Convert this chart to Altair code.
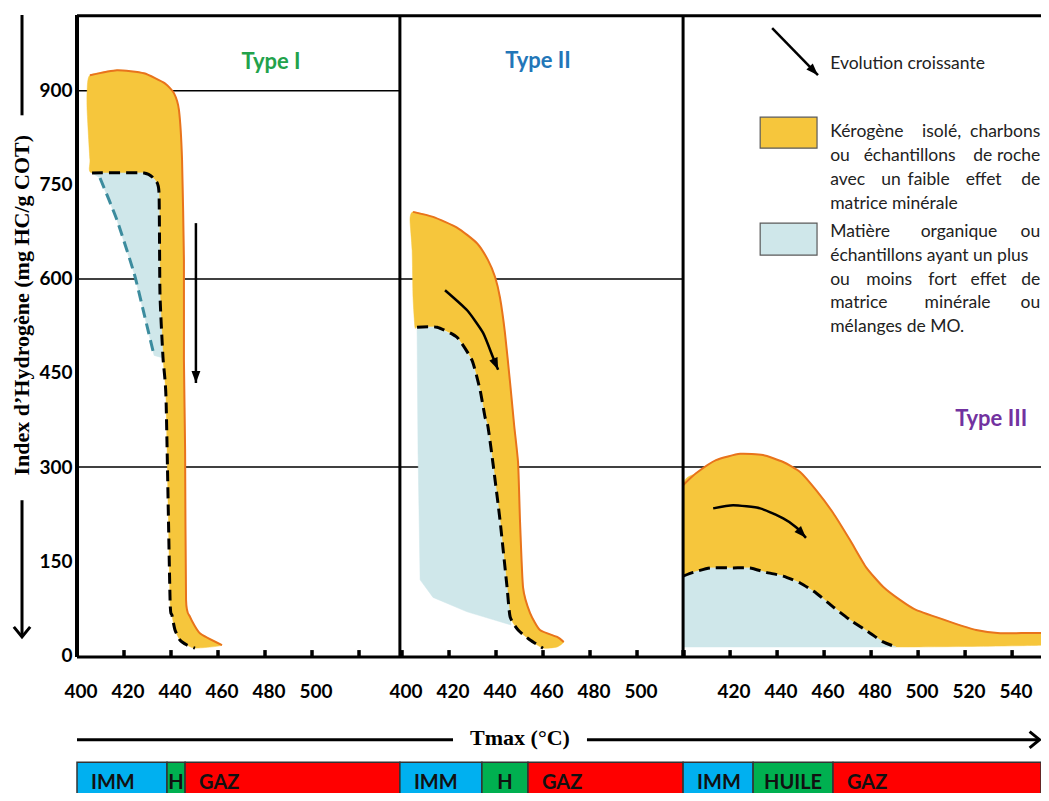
import altair as alt
import pandas as pd

# ---------------- values (Tmax in °C, IH in mg HC/g COT) ----------------
# Type I : kerogen envelope (outer orange edge first, then inner edge back up)
T1_KER_T = [405.5, 417.0, 428.5, 437.4, 441.3, 443.4, 444.7, 445.5, 445.5, 446.0, 446.4, 448.1, 452.3, 461.7,
            450.2, 446.8, 443.8, 441.7, 440.4, 439.6, 437.9, 436.6, 435.3, 434.9, 433.2, 428.5, 406.4, 405.5, 404.3, 404.3]
T1_KER_IH = [925, 933, 928, 912, 896, 869, 790, 630, 471, 327, 88, 61, 35, 16,
             11, 16, 24, 40, 64, 88, 407, 474, 577, 737, 758, 769, 769, 790, 869, 900]
T1_EDGE_N = 14
T1_MO_T = [406.4, 428.5, 433.2, 434.9, 435.3, 436.6, 432.8, 428.5, 424.3, 417.0, 409.8]
T1_MO_IH = [769, 769, 758, 737, 577, 474, 478, 545, 609, 694, 761]
T1_DASH_T = [406.4, 428.5, 433.2, 434.9, 435.3, 436.6, 437.9, 439.6, 440.4, 441.7, 443.8, 446.8, 450.2]
T1_DASH_IH = [769, 769, 758, 737, 577, 474, 407, 88, 64, 40, 24, 16, 11]
T1_MODASH_T = [409.8, 417.0, 424.3, 428.5, 432.8]
T1_MODASH_IH = [761, 694, 609, 545, 478]
T1_ARROW_T = [450.6, 450.6]
T1_ARROW_IH = [689, 434]

# Type II
T2_KER_T = [404.7, 413.2, 423.4, 431.9, 436.6, 439.6, 441.7, 443.8, 446.0, 447.7, 449.4, 450.2, 451.5, 454.5, 458.7, 466.0, 468.8,
            466.0, 460.0, 454.5, 449.4, 446.0, 444.7, 441.7, 438.7, 436.6, 435.3, 433.2, 429.8, 423.4, 414.9, 406.4, 405.5,
            404.7, 404.3, 403.4]
T2_KER_IH = [707, 699, 682, 657, 630, 603, 570, 514, 434, 367, 306, 215, 108, 67, 40, 29, 21,
             13, 11, 24, 40, 61, 108, 215, 306, 364, 380, 423, 470, 507, 523, 523, 523,
             570, 646, 695]
T2_EDGE_N = 17
T2_MO_T = [406.4, 414.9, 423.4, 429.8, 433.2, 435.3, 436.6, 438.7, 441.7, 444.7, 446.0, 446.4, 427.7, 413.2, 407.7, 406.8]
T2_MO_IH = [523, 523, 507, 470, 423, 380, 364, 306, 215, 108, 61, 48, 69, 92, 120, 330]
T2_DASH_T = [406.4, 414.9, 423.4, 429.8, 433.2, 435.3, 436.6, 438.7, 441.7, 444.7, 446.0, 449.4, 454.5, 460.0]
T2_DASH_IH = [523, 523, 507, 470, 423, 380, 364, 306, 215, 108, 61, 40, 24, 11]
T2_ARROW_T = [418.3, 427.7, 434.5, 438.7, 440.9]
T2_ARROW_IH = [582, 550, 514, 475, 455]

# Type III
T3_KER_T = [400.0, 405.5, 414.0, 424.3, 434.0, 442.6, 449.8, 456.6, 463.8, 471.1, 477.9, 485.1, 492.3, 499.1, 513.6,
            524.7, 534.9, 553.2, 555.3,
            554.0, 490.6, 485.1, 479.6, 471.1, 463.8, 456.6, 449.8, 442.6, 435.3, 428.5, 421.3, 411.5, 404.3, 400.0]
T3_KER_IH = [271, 290, 311, 321, 319, 308, 292, 263, 227, 183, 140, 109, 88, 72, 53,
             40, 35, 35, 29,
             16, 13, 21, 35, 56, 77, 99, 115, 126, 132, 139, 139, 139, 132, 126]
T3_EDGE_N = 19
T3_MO_T = [400.0, 404.3, 411.5, 421.3, 428.5, 435.3, 442.6, 449.8, 456.6, 463.8, 471.1, 479.6, 485.1, 490.6, 400.0]
T3_MO_IH = [126, 132, 139, 139, 139, 132, 126, 115, 99, 77, 56, 35, 21, 13, 13]
T3_DASH_T = [400.0, 404.3, 411.5, 421.3, 428.5, 435.3, 442.6, 449.8, 456.6, 463.8, 471.1, 479.6, 485.1, 490.6]
T3_DASH_IH = [126, 132, 139, 139, 139, 132, 126, 115, 99, 77, 56, 35, 21, 13]
T3_ARROW_T = [412.8, 421.3, 432.8, 442.6, 448.1, 452.3]
T3_ARROW_IH = [234, 239, 234, 218, 204, 187]

# grid lines per panel
GRID_PANEL = [1, 1, 1, 2, 2, 3]
GRID_IH = [900, 600, 300, 600, 300, 300]
PANEL_T_MIN = [400.0, 399.1, 400.0]
PANEL_T_MAX = [537.4, 519.6, 552.3]

# axis ticks / labels
TICKS = {1: [400, 420, 440, 460, 480, 500, 520], 2: [400, 420, 440, 460, 480, 500, 520],
         3: [400, 420, 440, 460, 480, 500, 520, 540]}
TICK_LABELS = {1: [400, 420, 440, 460, 480, 500], 2: [400, 420, 440, 460, 480, 500],
               3: [420, 440, 460, 480, 500, 520, 540]}
Y_TICKS = [0, 150, 300, 450, 600, 750, 900]

# maturity bands under the plots
BAND_PANEL = [1, 1, 1, 2, 2, 2, 3, 3, 3]
BAND_T0 = [400.0, 438.3, 446.0, 399.1, 434.0, 453.6, 400.0, 429.8, 463.8]
BAND_T1 = [438.3, 446.0, 537.4, 434.0, 453.6, 519.6, 429.8, 463.8, 552.3]
BAND_ZONE = ["IMM", "HUILE", "GAZ"] * 3
BAND_LABEL = ["IMM", "H", "GAZ", "IMM", "H", "GAZ", "IMM", "HUILE", "GAZ"]

TYPE_LABELS = ["Type I", "Type II", "Type III"]
TYPE_PANEL = [1, 2, 3]

# ---------------- layout / style ----------------
TYPE_T = [482.6, 457.9, 531.1]
TYPE_IH = [946, 947, 376]
TYPE_COLORS = ["#22A24B", "#2276B8", "#7232A0"]
ZONE_COLORS = {"IMM": "#00B0F0", "HUILE": "#00B050", "GAZ": "#FF0000"}
YELLOW = "#F6C63C"
TEAL = "#CFE7EA"
ORANGE = "#E8731C"
TEALDASH = "#3C8C9E"
FONT = "Lato"
SERIF = "Liberation Serif"
LEG_SIZE = 17.5

LEGEND_LINE_IH = [835, 796, 758, 720, 675, 637, 599, 561, 524]
R = 552.0
LEGEND_WORDS = [
    [("Kérogène", 462.6, "left"), ("isolé,", 510.0, "center"), ("charbons", R, "right")],
    [("ou", 462.6, "left"), ("échantillons", 496.4, "center"), ("de", 527.5, "center"), ("roche", R, "right")],
    [("avec", 462.6, "left"), ("un", 488.5, "center"), ("faible", 504.5, "center"), ("effet", 527.9, "center"),
     ("de", R, "right")],
    [("matrice minérale", 462.6, "left")],
    [("Matière", 462.6, "left"), ("organique", 517.4, "center"), ("ou", R, "right")],
    [("échantillons ayant un plus", 462.6, "left")],
    [("ou", 462.6, "left"), ("moins", 487.7, "center"), ("fort", 510.4, "center"), ("effet", 530.0, "center"),
     ("de", R, "right")],
    [("matrice", 462.6, "left"), ("minérale", 516.8, "center"), ("ou", R, "right")],
    [("mélanges de MO.", 462.6, "left")],
]

XS = alt.Scale(domain=[0, 410.2], nice=False, zero=False)
YS = alt.Scale(domain=[-220, 1021], nice=False, zero=False)
YAX = alt.Axis(values=Y_TICKS, domain=False, ticks=False, grid=False, labelFont=FONT,
               labelFontWeight="bold", labelFontSize=19, labelColor="black", labelPadding=5, title=None)
CURVE = dict(interpolate="cardinal", tension=0.45)
CURVE_CLOSED = dict(interpolate="cardinal-closed", tension=0.45)


def gxexpr(tf="T", pf="panel"):
    return f"datum.{tf} - 400 + (datum.{pf} == 2 ? 138.3 : (datum.{pf} == 3 ? 257.9 : 0))"


def X(f="gx"):
    return alt.X(f"{f}:Q", scale=XS, axis=None)


def Y(f="IH"):
    return alt.Y(f"{f}:Q", scale=YS, axis=YAX)


def table(panel, ts, ihs, name):
    return pd.DataFrame({"panel": panel, "T": ts, "IH": ihs, "i": list(range(len(ts))), "shape": name})


def base(df):
    return alt.Chart(df).transform_calculate(gx=gxexpr())


def path_layer(df, **mark):
    return base(df).mark_line(**mark).encode(x=X(), y=Y(), detail="shape:N", order="i:Q")


ker = pd.concat([table(1, T1_KER_T, T1_KER_IH, "k1"), table(2, T2_KER_T, T2_KER_IH, "k2"),
                 table(3, T3_KER_T, T3_KER_IH, "k3")])
edge = pd.concat([table(1, T1_KER_T[:T1_EDGE_N], T1_KER_IH[:T1_EDGE_N], "e1"),
                  table(2, T2_KER_T[:T2_EDGE_N], T2_KER_IH[:T2_EDGE_N], "e2"),
                  table(3, T3_KER_T[:T3_EDGE_N], T3_KER_IH[:T3_EDGE_N], "e3")])
mo = pd.concat([table(1, T1_MO_T, T1_MO_IH, "m1"), table(2, T2_MO_T, T2_MO_IH, "m2"),
                table(3, T3_MO_T, T3_MO_IH, "m3")])
dash = pd.concat([table(1, T1_DASH_T, T1_DASH_IH, "d1"), table(2, T2_DASH_T, T2_DASH_IH, "d2"),
                  table(3, T3_DASH_T, T3_DASH_IH, "d3")])
modash = table(1, T1_MODASH_T, T1_MODASH_IH, "md1")
straight_arrow = table(1, T1_ARROW_T, T1_ARROW_IH, "a1")
curved_arrows = pd.concat([table(2, T2_ARROW_T, T2_ARROW_IH, "a2"), table(3, T3_ARROW_T, T3_ARROW_IH, "a3")])
legend_arrow = table(3, [437.9, 457.4], [1000, 925], "la")

heads = pd.DataFrame({"panel": [1, 2, 3, 3],
                      "T": [T1_ARROW_T[-1], T2_ARROW_T[-1], T3_ARROW_T[-1], 457.4],
                      "IH": [T1_ARROW_IH[-1], T2_ARROW_IH[-1], T3_ARROW_IH[-1], 925],
                      "ang": [180, 157, 137, 136]})

grid = pd.DataFrame({"panel": GRID_PANEL, "IH": GRID_IH,
                     "T": [PANEL_T_MIN[p - 1] for p in GRID_PANEL],
                     "T2": [PANEL_T_MAX[p - 1] for p in GRID_PANEL]})

ticks = pd.DataFrame([{"panel": p, "T": t, "IH": -3, "IH2": 8} for p, ts in TICKS.items() for t in ts])
tick_labels = pd.DataFrame([{"panel": p, "T": t, "IH": -59, "lab": str(t)} for p, ts in TICK_LABELS.items() for t in ts])

bands = pd.DataFrame({"panel": BAND_PANEL, "T": BAND_T0, "T2": BAND_T1, "zone": BAND_ZONE, "lab": BAND_LABEL})
bands["Tc"] = (bands["T"] + bands["T2"]) / 2
bands["col"] = bands["zone"].map(ZONE_COLORS)

types = pd.DataFrame({"panel": TYPE_PANEL, "T": TYPE_T, "IH": TYPE_IH, "lab": TYPE_LABELS, "col": TYPE_COLORS})

words = pd.DataFrame([{"panel": 3, "T": t, "IH": ih, "word": w, "al": a}
                      for ih, items in zip(LEGEND_LINE_IH, LEGEND_WORDS) for (w, t, a) in items])

vlines = pd.DataFrame({"panel": [1, 2, 3], "T": [400.0, 399.1, 400.0], "IH": [-3, -3, -3], "IH2": [1021, 1021, 1021],
                       "w": [4, 3, 3]})
hlines = pd.DataFrame({"panel": [1, 1], "T": [400.0, 400.0], "panel2": [3, 3], "T2": [552.3, 552.3],
                       "IH": [1020, -3]})

swatches = pd.DataFrame({"panel": [3, 3], "T": [432.8, 432.8], "T2": [457.0, 457.0],
                         "IH": [858, 689], "IH2": [808.6, 638], "col": [YELLOW, TEAL]})

layers = []

# grid lines (under the envelopes)
layers.append(
    alt.Chart(grid).transform_calculate(gx=gxexpr(), gx2=gxexpr("T2"))
    .mark_rule(color="black", strokeWidth=1.5)
    .encode(x=X(), x2="gx2:Q", y=Y())
)
# envelopes
layers.append(path_layer(ker, fill=YELLOW, stroke=YELLOW, strokeWidth=0.5, **CURVE_CLOSED))
layers.append(path_layer(mo, fill=TEAL, stroke=TEAL, strokeWidth=0.5, interpolate="linear-closed"))
layers.append(path_layer(edge, color=ORANGE, strokeWidth=2, **CURVE))
layers.append(path_layer(dash, color="black", strokeWidth=3, strokeDash=[11, 6], **CURVE))
layers.append(path_layer(modash, color=TEALDASH, strokeWidth=3, strokeDash=[11, 6], **CURVE))
# arrows
layers.append(path_layer(straight_arrow, color="black", strokeWidth=2.5))
layers.append(path_layer(curved_arrows, color="black", strokeWidth=2.5, **CURVE))
layers.append(path_layer(legend_arrow, color="black", strokeWidth=2.5))
layers.append(
    base(heads).mark_point(shape="M0,0L0.55,1.5L-0.55,1.5Z", filled=True, color="black", size=260, opacity=1)
    .encode(x=X(), y=Y(), angle=alt.Angle("ang:Q", scale=None))
)
# frame
layers.append(
    base(vlines).mark_rule(color="black")
    .encode(x=X(), y=Y(), y2="IH2:Q", strokeWidth=alt.StrokeWidth("w:Q", scale=None))
)
layers.append(
    alt.Chart(hlines).transform_calculate(gx=gxexpr(), gx2=gxexpr("T2", "panel2"))
    .mark_rule(color="black", strokeWidth=3)
    .encode(x=X(), x2="gx2:Q", y=Y())
)
layers.append(base(ticks).mark_rule(color="black", strokeWidth=3.5).encode(x=X(), y=Y(), y2="IH2:Q"))
layers.append(
    base(tick_labels).mark_text(font=FONT, fontWeight="bold", fontSize=19, color="black", dx=4, baseline="middle")
    .encode(x=X(), y=Y(), text="lab:N")
)
# type titles
layers.append(
    base(types).mark_text(font=FONT, fontWeight="bold", fontSize=22, baseline="middle")
    .encode(x=X(), y=Y(), text="lab:N", color=alt.Color("col:N", scale=None))
)
# legend
layers.append(
    base(swatches).transform_calculate(gx2=gxexpr("T2"))
    .mark_rect(stroke="#595959", strokeWidth=1.2)
    .encode(x=X(), x2="gx2:Q", y=Y(), y2="IH2:Q", fill=alt.Fill("col:N", scale=None))
)
layers.append(
    base(pd.DataFrame({"panel": [3], "T": [462.6], "IH": [943], "lab": ["Evolution croissante"]}))
    .mark_text(font=FONT, fontSize=LEG_SIZE, color="#222222", align="left", baseline="middle")
    .encode(x=X(), y=Y(), text="lab:N")
)
for al in ["left", "center", "right"]:
    layers.append(
        base(words).transform_filter(alt.datum.al == al)
        .mark_text(font=FONT, fontSize=LEG_SIZE, color="#222222", align=al, baseline="middle")
        .encode(x=X(), y=Y(), text="word:N")
    )
# y-axis title with its arrow
layers.append(
    base(pd.DataFrame({"panel": [1], "T": [376.6], "IH": [558], "lab": ["Index d’Hydrogène (mg HC/g COT)"]}))
    .mark_text(font=SERIF, fontWeight="bold", fontSize=22, angle=270, baseline="middle", color="black")
    .encode(x=X(), y=Y(), text="lab:N")
)
layers.append(
    base(pd.DataFrame({"panel": [1, 1], "T": [376.6, 376.6], "IH": [861, 247], "IH2": [1021, 30]}))
    .mark_rule(color="black", strokeWidth=3).encode(x=X(), y=Y(), y2="IH2:Q")
)
layers.append(
    base(pd.DataFrame({"panel": [1, 3], "T": [376.6, 551.7], "IH": [29, -135], "ang": [180, 90]}))
    .mark_point(shape="M-0.9,1.1L0,0L0.9,1.1", filled=False, color="black", strokeWidth=3, size=330, opacity=1)
    .encode(x=X(), y=Y(), angle=alt.Angle("ang:Q", scale=None))
)
# Tmax axis arrow and title
layers.append(
    alt.Chart(pd.DataFrame({"panel": [1, 2], "T": [400.0, 478.7], "panel2": [2, 3], "T2": [421.7, 551.4],
                            "IH": [-135, -135]}))
    .transform_calculate(gx=gxexpr(), gx2=gxexpr("T2", "panel2"))
    .mark_rule(color="black", strokeWidth=3)
    .encode(x=X(), x2="gx2:Q", y=Y())
)
layers.append(
    base(pd.DataFrame({"panel": [2], "T": [450.2], "IH": [-132], "lab": ["Tmax (°C)"]}))
    .mark_text(font=SERIF, fontWeight="bold", fontSize=22, baseline="middle", color="black")
    .encode(x=X(), y=Y(), text="lab:N")
)
# maturity bands
layers.append(
    base(bands).transform_calculate(gx2=gxexpr("T2"))
    .mark_rect(stroke="#333333", strokeWidth=1.5)
    .encode(x=X(), x2="gx2:Q", y=alt.datum(-171), y2=alt.datum(-222), fill=alt.Fill("col:N", scale=None))
)
layers.append(
    base(bands).transform_filter("datum.zone != 'HUILE'")
    .transform_calculate(IH="-204")
    .mark_text(font=FONT, fontWeight="bold", fontSize=20, color="#111111", align="left", dx=14, baseline="middle")
    .encode(x=X(), y=Y(), text="lab:N")
)
layers.append(
    base(bands).transform_filter("datum.zone == 'HUILE'")
    .transform_calculate(gx=gxexpr("Tc"), IH="-204")
    .mark_text(font=FONT, fontWeight="bold", fontSize=20, color="#111111", align="center", baseline="middle")
    .encode(x=X(), y=Y(), text="lab:N")
)

chart = alt.layer(*layers).properties(
    width=964, height=778,
    autosize=alt.AutoSizeParams(type="none"),
    padding={"left": 69, "top": 7, "right": 0, "bottom": 0},
).configure_view(stroke=None)

chart.save("out.html", embed_options={"renderer": "svg", "actions": False})
